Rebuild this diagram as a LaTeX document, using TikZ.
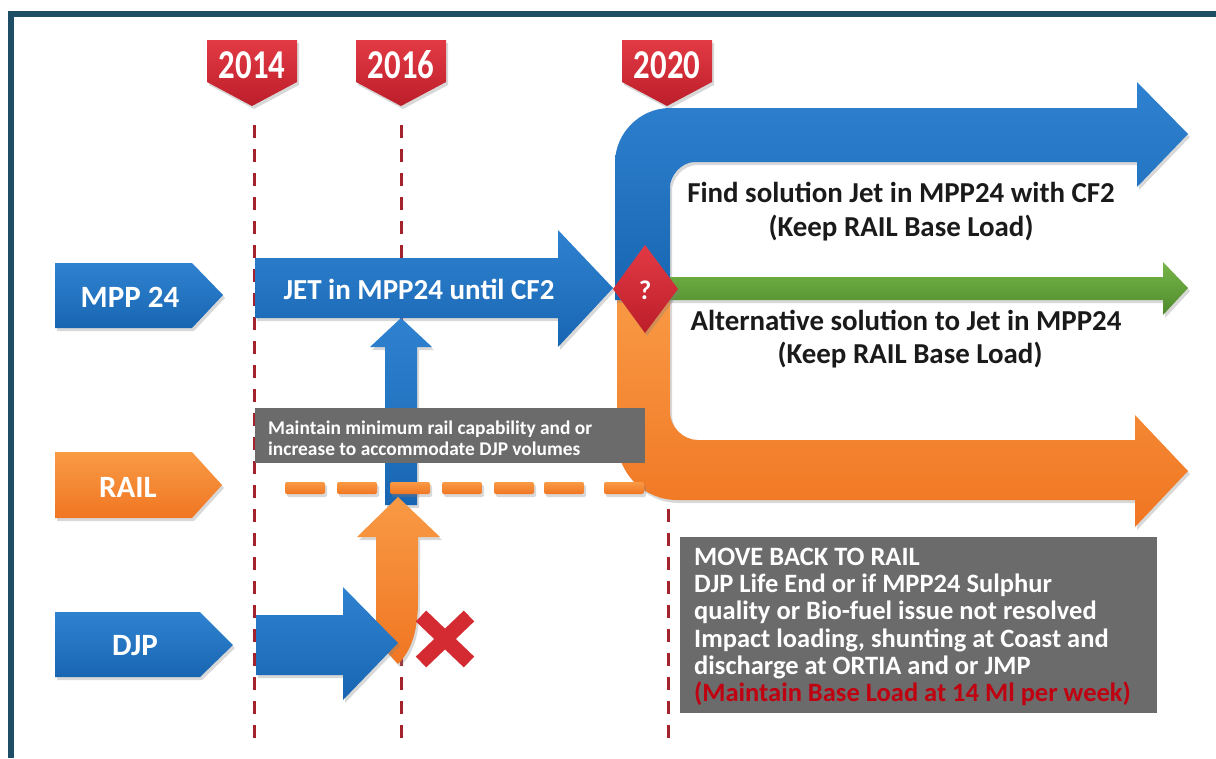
\documentclass[tikz,border=0pt]{standalone}
\usepackage{fontspec}
\setmainfont{Carlito}
\usetikzlibrary{shadows}
\definecolor{framec}{HTML}{1E4D66}
\definecolor{blueL}{HTML}{2F82D0}
\definecolor{blueD}{HTML}{1866B2}
\definecolor{orangeL}{HTML}{F99A45}
\definecolor{orangeD}{HTML}{F07622}
\definecolor{greenL}{HTML}{76B548}
\definecolor{greenD}{HTML}{4F8B2D}
\definecolor{redL}{HTML}{E23A45}
\definecolor{redD}{HTML}{BC1E29}
\definecolor{dashred}{HTML}{A3222C}
\definecolor{greybox}{HTML}{6B6B6B}
\definecolor{redtxt}{HTML}{C00010}
\definecolor{xred}{HTML}{D42A32}
\definecolor{txtdark}{HTML}{1A1A1A}
\tikzset{
  shd/.style={drop shadow={opacity=0.3,shadow xshift=2pt,shadow yshift=-3pt}},
  bluefill/.style={top color=blueL,bottom color=blueD,shd},
  orangefill/.style={top color=orangeL,bottom color=orangeD,shd},
  greenfill/.style={top color=greenL,bottom color=greenD,shd},
  redfill/.style={top color=redL,bottom color=redD,shd},
  yeardash/.style={draw=dashred,line width=3pt,dash pattern=on 13pt off 11pt},
  yeartxt/.style={text=white,font=\bfseries\fontsize{41}{41}\selectfont,inner sep=0pt},
  tagtxt/.style={text=white,font=\bfseries\fontsize{31}{31}\selectfont,inner sep=0pt},
  bodytxt/.style={text=txtdark,font=\bfseries\fontsize{28.9}{28.9}\selectfont,inner sep=0pt},
  boxtxt/.style={text=white,font=\bfseries\fontsize{26.5}{27.2}\selectfont,align=left,inner sep=0pt},
  smalltxt/.style={text=white,font=\bfseries\fontsize{19.4}{21}\selectfont,align=left,inner sep=0pt},
  xmark/.style={draw=xred,line width=15pt},
  raildash/.style={orangefill,rounded corners=2pt}
}
\begin{document}
\begin{tikzpicture}[x=1pt,y=-1pt]
\useasboundingbox (0,0) rectangle (1216,758);
\fill[white] (0,0) rectangle (1216,758);
% frame
\fill[framec] (8,11) rectangle (1216,17);
\fill[framec] (8,11) rectangle (14,758);
% year guide lines
\foreach \x in {254,401,668} \draw[yeardash] (\x,125) -- (\x,745);
% year markers
\foreach \cx/\yr/\n in {252/2014/ya,401/2016/yb,667/2020/yc}{
  \path[redfill] ({\cx-45},40) -- ({\cx+45},40) -- ({\cx+45},82) -- (\cx,106) -- ({\cx-45},82) -- cycle;
  \node[yeartxt] (\n) at (\cx,65) {\scalebox{0.8}[1]{\yr}};
}
% orange branch
\path[orangefill] (617,290) -- (617,440) .. controls (617,473) and (644,500) .. (677,500)
  -- (1135,500) -- (1135,527) -- (1188,471) -- (1135,415) -- (1135,440) -- (698,440)
  .. controls (683,440) and (670,427) .. (670,412) -- (670,290) -- cycle;
% blue branch
\path[bluefill] (615,300) -- (615,163) .. controls (615,133) and (640,108) .. (670,108)
  -- (1137,108) -- (1137,82) -- (1188,134) -- (1137,187) -- (1137,162) -- (695,162)
  .. controls (681,162) and (670,176) .. (670,187) -- (670,300) -- cycle;
% green branch
\path[greenfill] (670,277) -- (1163,277) -- (1163,262) -- (1188,288) -- (1163,315) -- (1163,300) -- (670,300) -- cycle;
% JET arrow
\path[bluefill] (255,258) -- (558,258) -- (558,230) -- (613,288) -- (558,347) -- (558,318) -- (255,318) -- cycle;
\node[tagtxt,font=\bfseries\fontsize{29}{29}\selectfont] (jet) at (419,289) {JET in MPP24 until CF2};
% decision diamond
\path[redfill] (645,245) -- (678,289) -- (645,333) -- (613,289) -- cycle;
\node[tagtxt,font=\bfseries\fontsize{27}{27}\selectfont] (q) at (645,290) {?};
% small blue up arrow
\path[bluefill] (385,505) -- (385,347) -- (370,347) -- (401,318) -- (432,347) -- (417,347) -- (417,505) -- cycle;
% small grey box
\fill[greybox] (255,408) rectangle (645,463);
\node[smalltxt,anchor=west] (maint) at (268,438) {Maintain minimum rail capability and or\\increase to accommodate DJP volumes};
% rail dashes
\foreach \c in {305,357,410,462,514,564,624}
  \path[raildash] ({\c-20},482) rectangle ({\c+20},494);
% orange curved up arrow
\path[orangefill] (418,537) -- (440,537) -- (398,497) -- (357,537) -- (376,537) -- (376,640)
  -- (398,664) .. controls (412,650) and (418,630) .. (418,600) -- cycle;
% DJP arrow
\path[bluefill] (256,615) -- (343,615) -- (343,587) -- (398,643) -- (343,700) -- (343,675) -- (256,675) -- cycle;
% red cross
\draw[xmark] (421,616) -- (469,662);
\draw[xmark] (469,616) -- (421,662);
% tags
\path[bluefill] (55,263) -- (192,263) -- (223,295) -- (192,328) -- (55,328) -- cycle;
\node[tagtxt] (mpp) at (130,297) {MPP 24};
\path[orangefill] (55,452) -- (192,452) -- (222,485) -- (192,518) -- (55,518) -- cycle;
\node[tagtxt] (rail) at (128,487) {RAIL};
\path[bluefill] (55,612) -- (200,612) -- (233,645) -- (200,677) -- (55,677) -- cycle;
\node[tagtxt] (djp) at (135,646) {DJP};
% right texts
\node[bodytxt] (find) at (901,192) {Find solution Jet in MPP24 with CF2};
\node[bodytxt] (keep1) at (901,228) {(Keep RAIL Base Load)};
\node[bodytxt] (alt) at (906,320) {Alternative solution to Jet in MPP24};
\node[bodytxt] (keep2) at (910,355) {(Keep RAIL Base Load)};
% big grey box
\fill[greybox] (680,537) rectangle (1157,713);
\node[boxtxt,anchor=north west] (move) at (694,548) {MOVE BACK TO RAIL\\
DJP Life End or if MPP24 Sulphur\\
quality or Bio-fuel issue not resolved\\
Impact loading, shunting at Coast and\\
discharge at ORTIA and or JMP\\
\textcolor{redtxt}{(Maintain Base Load at 14 Ml per week)}};
\end{tikzpicture}
\end{document}
